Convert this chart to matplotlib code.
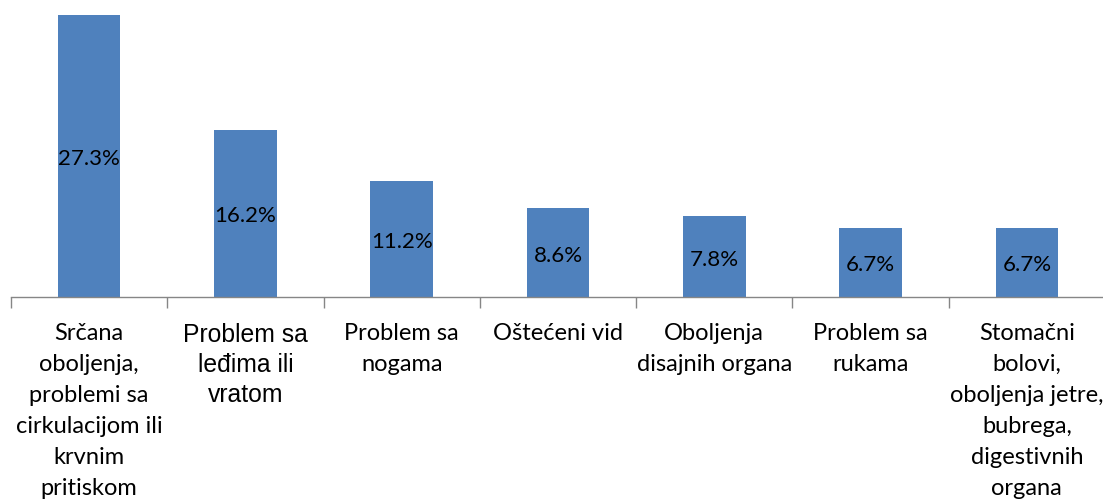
import matplotlib.pyplot as plt
import numpy as np

categories = [
    "Srčana\noboljenja,\nproblemi sa\ncirkulacijom ili\nkrvnim\npritiskom",
    "Problem sa\nleđima ili\nvratom",
    "Problem sa\nnogama",
    "Oštećeni vid",
    "Oboljenja\ndisajnih organa",
    "Problem sa\nrukama",
    "Stomačni\nbolovi,\noboljenja jetre,\nbubrega,\ndigestivnih\norgana",
]
values = [27.3, 16.2, 11.2, 8.6, 7.8, 6.7, 6.7]
value_labels = ["27.3%", "16.2%", "11.2%", "8.6%", "7.8%", "6.7%", "6.7%"]

W, H = 1103, 502
fig = plt.figure(figsize=(W / 100, H / 100), dpi=100)
# axes in pixel terms: x from 11 to ~1105, axis line at y=298, top at y=16
ax = fig.add_axes([11 / W, (H - 298) / H, 1094 / W, (298 - 16) / H])

x = np.arange(len(values))
ax.bar(x, values, width=0.4, color="#4F81BD", edgecolor="none")

for xi, v, lab in zip(x, values, value_labels):
    ax.text(xi, v / 2, lab, ha="center", va="center_baseline", fontsize=16,
            family="Lato", color="black")

ax.set_xlim(-0.5, len(values) - 0.5)
ax.set_ylim(0, 27.3)

for s in ["top", "right", "left"]:
    ax.spines[s].set_visible(False)
ax.spines["bottom"].set_color("#868686")
ax.spines["bottom"].set_linewidth(1)
ax.set_yticks([])

# tick marks at category boundaries, labels at centers
ax.set_xticks(np.arange(-0.5, len(values) + 0.5, 1), minor=True)
ax.tick_params(axis="x", which="minor", length=8, color="#868686", width=1)
ax.set_xticks(x)
ax.tick_params(axis="x", which="major", length=0, pad=18)
labels = ax.set_xticklabels(categories, family="Lato", fontsize=17,
                            linespacing=1.59, va="top")
labels[1].set_family("Liberation Sans")
labels[1].set_fontsize(17.8)
labels[1].set_linespacing(1.32)

fig.savefig("out.png", dpi=100)
